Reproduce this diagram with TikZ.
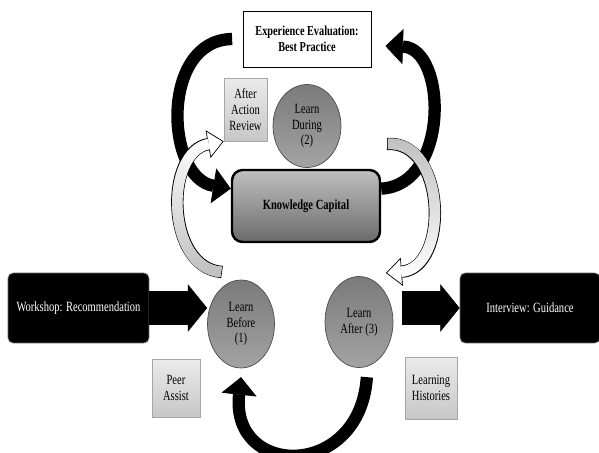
\documentclass[tikz,border=0pt]{standalone}
\usepackage{fontspec}
\setmainfont[FakeStretch=0.75]{Liberation Serif}
\usetikzlibrary{shapes.geometric,arrows.meta,fadings}

\tikzfading[name=fadeup, top color=transparent!100, bottom color=transparent!0]
\tikzfading[name=fadedown, top color=transparent!0, bottom color=transparent!100]

\tikzset{
  txt/.style={font=\fontsize{8}{9}\selectfont, align=center},
  graybox/.style={txt, rectangle, draw=black!35, top color=black!8, bottom color=black!22, inner sep=0pt},
  learn/.style={txt, ellipse, draw=black!70, top color=black!52, bottom color=black!36, inner sep=0pt},
  darkbox/.style={txt, rectangle, rounded corners=3pt, fill=black, draw=black!60, text=white, inner sep=0pt},
  bigarrow/.style={line width=7pt, -{Triangle[length=10pt, width=20pt, line width=0.4pt]}},
  blockarrow/.style={line width=19pt, -{Triangle[length=11pt, width=27pt, line width=0.4pt]}},
  outline/.style={draw=black, line width=7pt, -{Triangle[length=9pt, width=16pt, line width=0.4pt]}},
  inline/.style={draw=white, line width=6pt, shorten <=0.5pt, shorten >=0.75pt,
    -{Triangle[length=7.8pt, width=13.8pt, line width=0.1pt]}},
  shadeline/.style={draw=black!25, line width=6pt, shorten <=0.5pt, shorten >=9pt}
}

\begin{document}
\begin{tikzpicture}[x=0.02cm, y=-0.02cm]
        \useasboundingbox (0,0) rectangle (599,453);
        \clip (0,0) rectangle (599,453);

        % boxes and circles
        \node[rectangle, draw, fill=white, txt, font=\bfseries\fontsize{7.8}{9}\selectfont,
              minimum width=2.56cm, minimum height=1.12cm] (ee) at (307,39) {Experience Evaluation:\\Best Practice};
        \node[graybox, minimum width=0.86cm, minimum height=1.26cm] (aar) at (245.5,109.5) {After\\Action\\Review};
        \node[learn, minimum width=1.36cm, minimum height=1.66cm] (ld) at (307,126) {Learn\\During\\(2)};
        \node[rectangle, rounded corners=6pt, draw, line width=1.4pt, top color=black!25, bottom color=black!58,
              txt, font=\bfseries\fontsize{8}{9}\selectfont, minimum width=2.96cm, minimum height=1.44cm] (kc) at (306,206) {Knowledge Capital};
        \node[darkbox, minimum width=2.82cm, minimum height=1.4cm] (ws) at (78.5,308) {Workshop: Recommendation};
        \node[learn, minimum width=1.34cm, minimum height=1.76cm] (lb) at (241,324) {Learn\\Before\\(1)};
        \node[learn, minimum width=1.36cm, minimum height=1.82cm] (la) at (359,322) {Learn\\After (3)};
        \node[darkbox, minimum width=2.8cm, minimum height=1.4cm] (iv) at (530,308) {Interview: Guidance};
        \node[graybox, minimum width=0.96cm, minimum height=1.16cm] (pa) at (176,388) {Peer\\Assist};
        \node[graybox, minimum width=1.04cm, minimum height=1.24cm] (lh) at (431,388) {Learning\\Histories};

        \coordinate (kcTail) at (387,144);
        \coordinate (laTip) at (386,273);
        \coordinate (lbTail) at (222,272);

        % straight block arrows
        \draw[blockarrow] (ws.east) -- (ws.east -| lb.west);
        \draw[blockarrow] ([xshift=5pt]la.east |- iv.west) -- (iv.west);

        % black loops
        \draw[bigarrow] ([xshift=-6pt]ee.west) .. controls (160,40) and (165,178) .. (kc.167);
        \draw[bigarrow] (kc.13) .. controls (450,185) and (447,48) .. ([xshift=8pt,yshift=-4pt]ee.east);
        \draw[bigarrow] ([yshift=-6pt]la.-80) .. controls (360,480) and (230,478) .. ([yshift=-5pt]lb.south);

        % outlined loops
        \draw[outline] (lbTail) .. controls (166,268) and (164,152) .. (aar.south west);
        \draw[inline] (lbTail) .. controls (166,268) and (164,152) .. (aar.south west);
        \draw[shadeline, path fading=fadeup] (lbTail) .. controls (166,268) and (164,152) .. (aar.south west);

        \draw[outline] (kcTail) .. controls (446,140) and (450,268) .. (laTip);
        \draw[inline] (kcTail) .. controls (446,140) and (450,268) .. (laTip);
        \draw[shadeline, path fading=fadedown] (kcTail) .. controls (446,140) and (450,268) .. (laTip);
\end{tikzpicture}
\end{document}
